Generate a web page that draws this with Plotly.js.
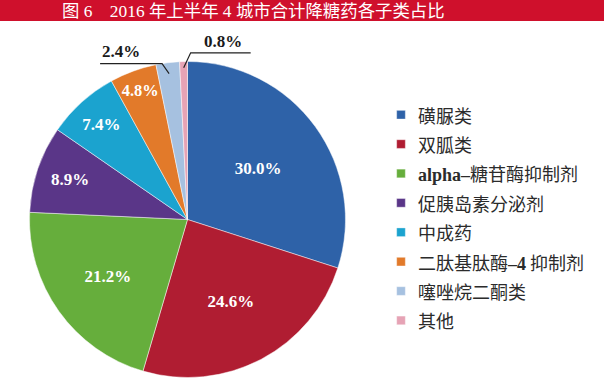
<!DOCTYPE html>
<html><head><meta charset="utf-8">
<script src="https://cdn.plot.ly/plotly-3.0.1.min.js"></script>
<style>
html,body{margin:0;padding:0;background:#fff;}
#chart{width:604px;height:382px;}
.legend .legendpoints path{transform:translate(23px,0) scale(0.72);}
</style></head><body><div id="chart"></div>
<script>
const categories = ['磺脲类','双胍类','alpha–糖苷酶抑制剂','促胰岛素分泌剂','中成药','二肽基肽酶–4 抑制剂','噻唑烷二酮类','其他'];
const shares = [30.0, 24.6, 21.2, 8.9, 7.4, 4.8, 2.4, 0.8];
const sliceColors = ['#2e62a8','#b01d32','#66ae3c','#5a3688','#1ba3cf','#e27a2a','#a6c1e0','#e6a3b5'];
const titleText = '图 6　2016 年上半年 4 城市合计降糖药各子类占比';
const outsideLabels = [6, 7]; // slices labelled outside with leader lines

const W = 604, H = 382;
const dom = {x:[0.0488, 0.5720], y:[0.0118, 0.8390]};
const X = px => px / W, Y = py => 1 - py / H;

const legendLabels = categories.map(c =>
  '<span style="font-size:18px">' +
  c.replace(/([A-Za-z0-9–\-]+)/g, '<span style="font-family:Liberation Serif;font-weight:bold">$1</span>') +
  '</span>');

const total = shares.reduce((a,b)=>a+b,0);
const cx = (dom.x[0]+dom.x[1])/2*W, cy = (1-(dom.y[0]+dom.y[1])/2)*H;
const R = Math.min((dom.x[1]-dom.x[0])*W, (dom.y[1]-dom.y[0])*H)/2;
function midPoint(i, f){
  let cum = 0; for (let k=0;k<i;k++) cum += shares[k];
  const th = 2*Math.PI*(cum + shares[i]/2)/total;
  return [cx + R*f*Math.sin(th), cy - R*f*Math.cos(th)];
}

const shapes = [{type:'rect', xref:'paper', yref:'paper', x0:0, x1:1, y0:Y(21), y1:1,
  fillcolor:'#cf102c', line:{width:0}, layer:'below'}];
const annotations = [{xref:'paper', yref:'paper', x:X(60), y:Y(11), xanchor:'left', yanchor:'middle',
  text:titleText, showarrow:false, font:{family:'Liberation Serif, Noto Sans CJK SC', size:17.4, color:'#ffffff'}}];

// leader line for 2.4%
(function(){
  const a = midPoint(6, 0.93), e = [a[0]-7, a[1]-10], end = [e[0]-62, e[1]];
  shapes.push({type:'path', xref:'paper', yref:'paper',
    path:`M${X(a[0])},${Y(a[1])} L${X(e[0])},${Y(e[1])} L${X(end[0])},${Y(end[1])}`, line:{color:'#222', width:1.2}});
  annotations.push({xref:'paper', yref:'paper', x:X(end[0]+21), y:Y(e[1]-12), xanchor:'center', yanchor:'middle',
    text:'<b>'+shares[6].toFixed(1)+'%</b>', showarrow:false, font:{family:'Liberation Serif', size:17, color:'#1a1a1a'}});
})();
// leader line for 0.8%
(function(){
  const a = midPoint(7, 0.96), e = [a[0]+7, a[1]-15], end = [e[0]+60, e[1]];
  shapes.push({type:'path', xref:'paper', yref:'paper',
    path:`M${X(a[0])},${Y(a[1])} L${X(e[0])},${Y(e[1])} L${X(end[0])},${Y(end[1])}`, line:{color:'#222', width:1.2}});
  annotations.push({xref:'paper', yref:'paper', x:X(e[0]+32), y:Y(e[1]-11), xanchor:'center', yanchor:'middle',
    text:'<b>'+shares[7].toFixed(1)+'%</b>', showarrow:false, font:{family:'Liberation Serif', size:17, color:'#1a1a1a'}});
})();

const trace = {
  type:'pie', labels:legendLabels, values:shares, sort:false, direction:'clockwise', rotation:0,
  domain:dom,
  marker:{colors:sliceColors, line:{color:'rgba(255,255,255,0.6)', width:0.8}},
  texttemplate: shares.map((v,i)=> outsideLabels.includes(i) ? '' : '%{value:.1f}%'),
  textposition:'inside', insidetextorientation:'horizontal',
  insidetextfont:{family:'Liberation Serif', size:17, color:'#ffffff', weight:'bold'},
  hoverinfo:'none'
};

const layout = {
  width:W, height:H, margin:{l:0,r:0,t:0,b:0},
  paper_bgcolor:'#ffffff', showlegend:true,
  legend:{x:X(378), y:Y(95), xanchor:'left', yanchor:'top',
    font:{family:'Noto Sans CJK SC', size:20.3, color:'#2b2b2b'}, bgcolor:'rgba(0,0,0,0)'},
  shapes, annotations
};
Plotly.newPlot('chart', [trace], layout, {staticPlot:true, displayModeBar:false});
</script></body></html>
